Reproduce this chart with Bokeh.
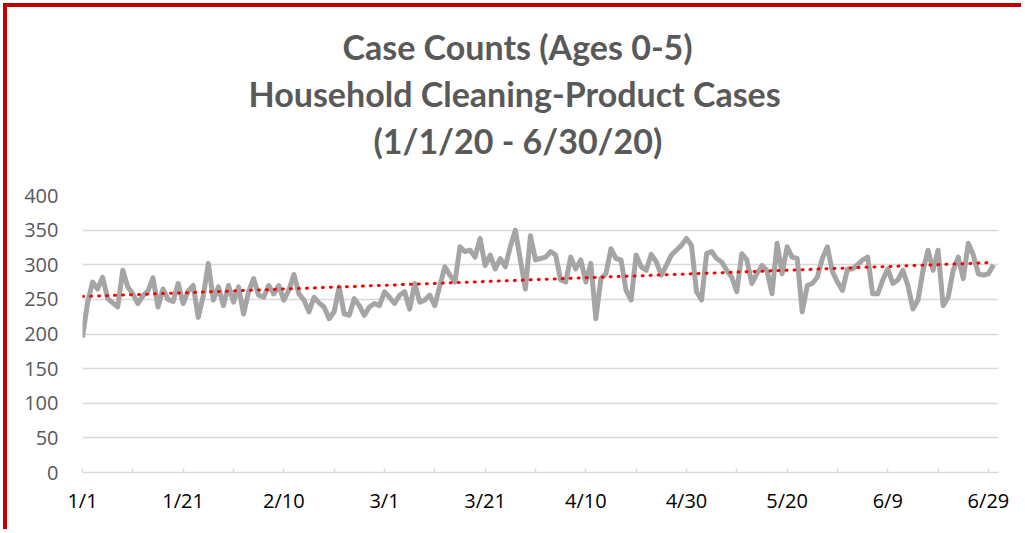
import numpy as np
import pandas as pd
from bokeh.plotting import figure
from bokeh.models import Title, FixedTicker, Range1d
from bokeh.embed import file_html
from bokeh.resources import INLINE

# ---- data ----
dates = pd.date_range("2020-01-01", "2020-06-30", freq="D")
cases = [
    195, 245, 275, 265, 282, 251, 245, 239, 292, 268,
    258, 244, 255, 262, 281, 239, 265, 250, 247, 273,
    244, 262, 270, 224, 255, 302, 249, 268, 241, 270,
    246, 268, 229, 261, 280, 256, 253, 270, 258, 270,
    249, 263, 286, 258, 249, 232, 253, 245, 239, 222,
    232, 268, 229, 227, 251, 241, 227, 239, 244, 241,
    261, 253, 244, 256, 261, 236, 273, 246, 249, 256,
    241, 270, 297, 285, 275, 326, 319, 321, 311, 338,
    299, 314, 294, 309, 297, 326, 350, 307, 265, 342,
    307, 309, 311, 319, 314, 278, 275, 311, 294, 307,
    275, 302, 222, 280, 287, 323, 309, 307, 263, 249,
    314, 297, 292, 315, 304, 285, 299, 314, 321, 328,
    338, 328, 261, 249, 316, 319, 309, 304, 292, 282,
    261, 316, 307, 273, 287, 299, 292, 258, 331, 287,
    326, 311, 309, 232, 270, 273, 282, 309, 326, 290,
    275, 263, 294, 294, 300, 307, 311, 258, 258, 278,
    294, 273, 278, 292, 270, 236, 249, 292, 321, 292,
    321, 241, 253, 292, 311, 280, 331, 314, 287, 285,
    287, 300,
]
tick_labels = ["1/1", "1/21", "2/10", "3/1", "3/21", "4/10", "4/30", "5/20", "6/9", "6/29"]
y_ticks = [0, 50, 100, 150, 200, 250, 300, 350, 400]
title_lines = ["Case Counts (Ages 0-5)", "Household Cleaning-Product Cases", "(1/1/20 - 6/30/20)"]

days = list(range(len(dates)))
md = [f"{d.month}/{d.day}" for d in dates]
tick_pos = [md.index(t) for t in tick_labels]
minor_pos = [p + 10 for p in tick_pos[:-1]]

# linear trendline (Excel-style) from the data
slope, intercept = np.polyfit(days, cases, 1)
trend = [intercept + slope * d for d in days]

p = figure(width=1018, height=526, output_backend="svg", toolbar_location=None,
           x_range=Range1d(0, 182), y_range=Range1d(0, 400),
           min_border_left=75, min_border_right=27, min_border_top=188, min_border_bottom=61)
p.styles = {"margin-left": "3px", "margin-top": "3px",
            "border-left": "4px solid #c00000", "border-top": "4px solid #c00000"}
p.outline_line_color = None
p.background_fill_color = "white"
p.border_fill_color = "white"

title_font = "Lato"
tick_font = "Open Sans"

# spacer between the frame and the title block
p.add_layout(Title(text=" ", text_font_size="1px", standoff=30), "above")
# left-aligned titles, offset from the frame's left edge so the block is centred on the chart
title_offsets = [260, 166, 291]
for line, off in zip(reversed(title_lines), reversed(title_offsets)):
    p.add_layout(Title(text=line, align="left", text_font=title_font, text_font_style="bold",
                       text_font_size="34px", text_color="#595959", offset=off, standoff=4),
                 "above")

# axes
p.yaxis.ticker = FixedTicker(ticks=y_ticks)
p.yaxis.axis_line_color = None
p.yaxis.major_tick_line_color = None
p.yaxis.minor_tick_line_color = None
p.yaxis.major_tick_out = 0
p.yaxis.major_label_standoff = 24
p.yaxis.major_label_text_font = tick_font
p.yaxis.major_label_text_font_size = "20px"
p.yaxis.major_label_text_color = "#595959"

p.xaxis.ticker = FixedTicker(ticks=tick_pos, minor_ticks=minor_pos)
p.xaxis.major_label_overrides = {pos: lab for pos, lab in zip(tick_pos, tick_labels)}
p.xaxis.axis_line_color = "#d9d9d9"
p.xaxis.axis_line_width = 1.5
p.xaxis.major_tick_line_color = "#d9d9d9"
p.xaxis.minor_tick_line_color = "#d9d9d9"
p.xaxis.major_tick_line_width = 1.5
p.xaxis.minor_tick_line_width = 1.5
p.xaxis.major_tick_in = 4
p.xaxis.major_tick_out = 0
p.xaxis.minor_tick_in = 4
p.xaxis.minor_tick_out = 0
p.xaxis.major_label_standoff = 14
p.xaxis.major_label_text_font = tick_font
p.xaxis.major_label_text_font_size = "20px"
p.xaxis.major_label_text_color = "#000000"

p.xgrid.grid_line_color = None
p.ygrid.ticker = FixedTicker(ticks=y_ticks)
p.ygrid.grid_line_color = "#d9d9d9"
p.ygrid.grid_line_width = 1.5

p.line(days, cases, line_color="#a5a5a5", line_width=5, line_join="round")
p.line(days, trend, line_color="#ff0000", line_width=3, line_dash="1 7", line_cap="round")

open("out.html", "w").write(file_html(p, INLINE))
